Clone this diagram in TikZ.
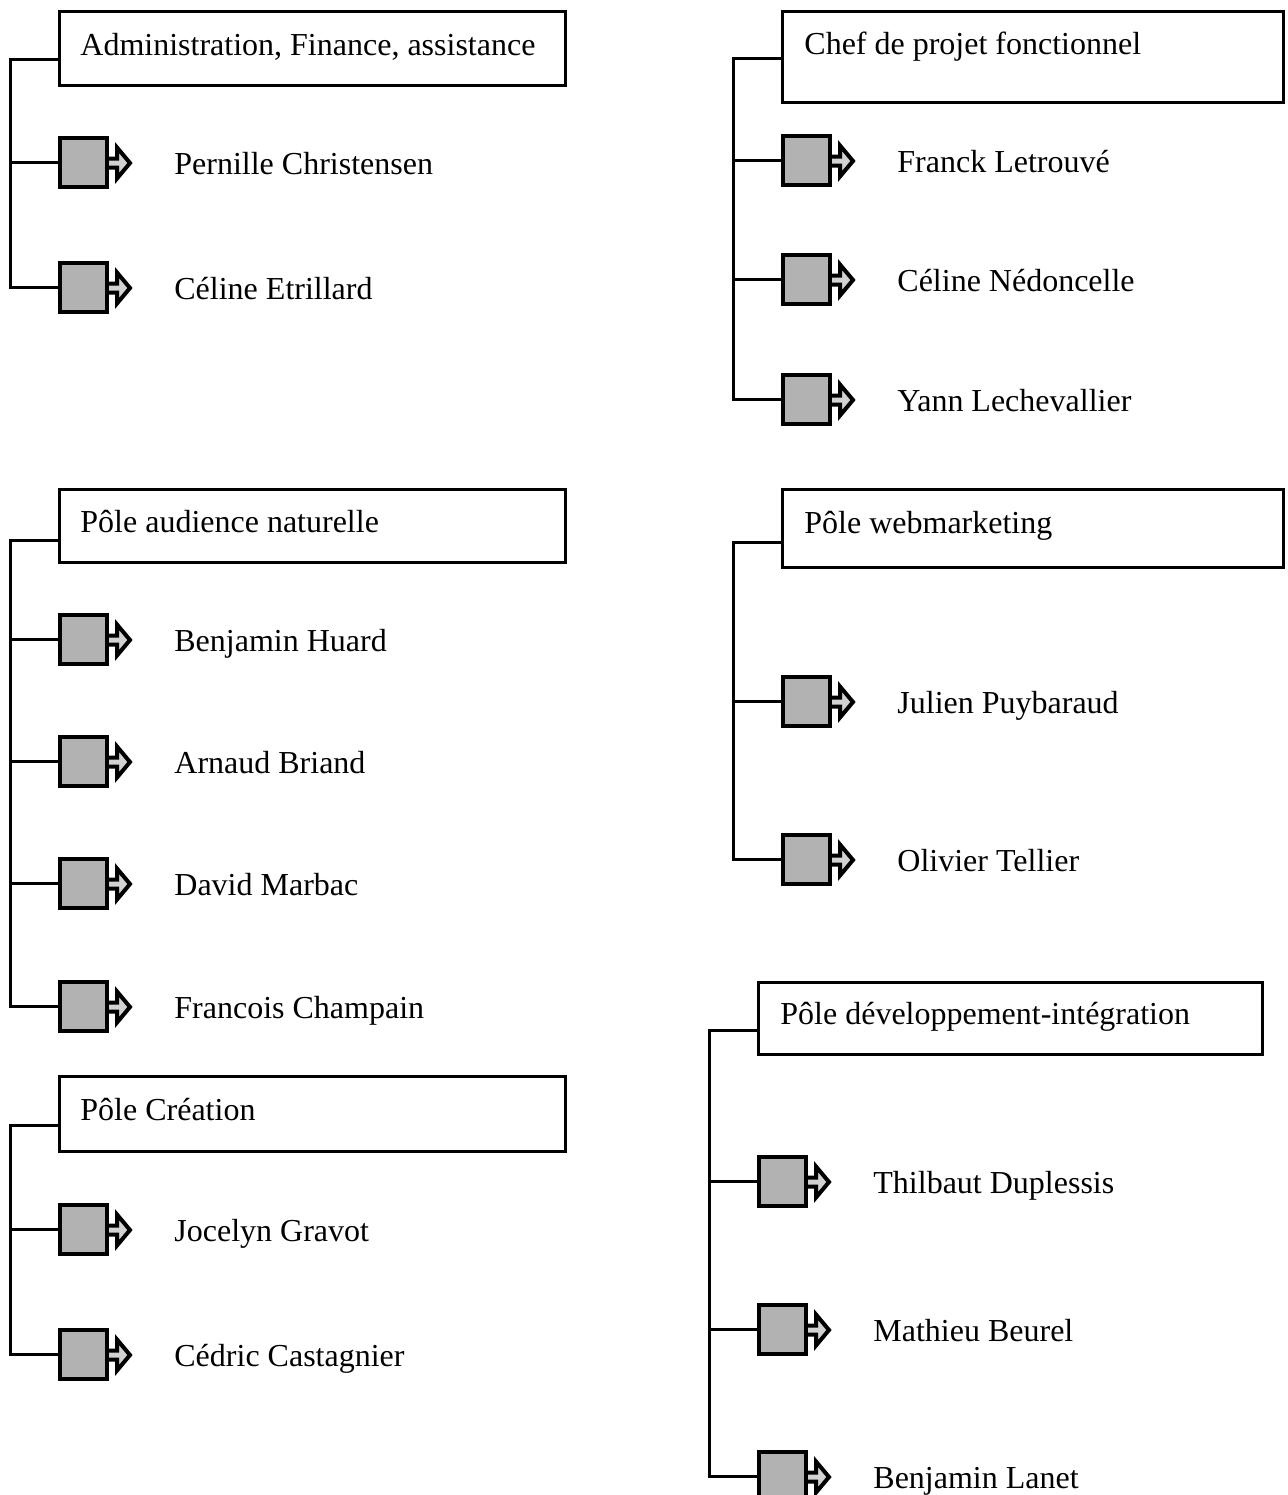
\documentclass[tikz,border=0pt]{standalone}
\usepackage{fontspec}
\setmainfont{Liberation Serif}
\usepackage{tikz}
\tikzset{
  head/.style={draw, line width=1.5pt, anchor=north west, inner sep=0pt},
  headtext/.style={anchor=base west, inner sep=0pt, font=\fontsize{16}{19}\selectfont},
  staffname/.style={anchor=base west, inner sep=0pt, font=\fontsize{16}{19}\selectfont},
  iconbox/.style={draw, line width=2pt, fill=gray!60, minimum width=23.5pt, minimum height=24.5pt, inner sep=0pt},
  iconarrow/.style={draw, line width=2pt, fill=gray!35, line join=miter},
  link/.style={line width=1.5pt}
}
% #1 node name, #2 left x of icon, #3 y, #4 person
\newcommand{\staff}[4]{\filldraw[iconarrow] ({#2+44},{#3-4.5}) -- ({#2+59},{#3-4.5}) -- ({#2+59},{#3-15.5}) -- ({#2+72},{#3}) -- ({#2+59},{#3+15.5}) -- ({#2+59},{#3+4.5}) -- ({#2+44},{#3+4.5}) -- cycle;
  \node[iconbox] (#1) at ({#2+25.5},{#3-1}) {};
  \node[staffname] (#1t) at ({#2+116},{#3+11}) {#4};}

\begin{document}
\begin{tikzpicture}[x=0.5pt,y=-0.5pt]
  \useasboundingbox (0,0) rectangle (1287,1495);
  % left column
  \node[head, minimum width=253pt, minimum height=37pt] (hA) at (58,10) {};
  \node[headtext] (tA) at (80,55) {Administration, Finance, assistance};
  \staff{pA1}{58}{163}{Pernille Christensen} \staff{pA2}{58}{288}{Céline Etrillard}
  \coordinate (jA) at (10,59);
  \draw[link] (jA -| hA.west) -- (jA) |- (pA2.west); \draw[link] (jA) |- (pA1.west);

  \node[head, minimum width=253pt, minimum height=36.5pt] (hB) at (58,488) {};
  \node[headtext] (tB) at (80,532) {Pôle audience naturelle};
  \staff{pB1}{58}{640}{Benjamin Huard} \staff{pB2}{58}{762}{Arnaud Briand}
  \staff{pB3}{58}{884}{David Marbac} \staff{pB4}{58}{1007}{Francois Champain}
  \coordinate (jB) at (10,540);
  \draw[link] (jB -| hB.west) -- (jB) |- (pB4.west);
  \draw[link] (jB) |- (pB1.west); \draw[link] (jB) |- (pB2.west); \draw[link] (jB) |- (pB3.west);

  \node[head, minimum width=253pt, minimum height=37.5pt] (hC) at (58,1075) {};
  \node[headtext] (tC) at (80,1120) {Pôle Création};
  \staff{pC1}{58}{1230}{Jocelyn Gravot} \staff{pC2}{58}{1355}{Cédric Castagnier}
  \coordinate (jC) at (10,1125);
  \draw[link] (jC -| hC.west) -- (jC) |- (pC2.west); \draw[link] (jC) |- (pC1.west);

  % right column
  \node[head, minimum width=250.5pt, minimum height=45.5pt] (hD) at (781,10) {};
  \node[headtext] (tD) at (804,54) {Chef de projet fonctionnel};
  \staff{pD1}{781}{161}{Franck Letrouvé} \staff{pD2}{781}{280}{Céline Nédoncelle}
  \staff{pD3}{781}{400}{Yann Lechevallier}
  \coordinate (jD) at (733,58);
  \draw[link] (jD -| hD.west) -- (jD) |- (pD3.west);
  \draw[link] (jD) |- (pD1.west); \draw[link] (jD) |- (pD2.west);

  \node[head, minimum width=250.5pt, minimum height=39pt] (hE) at (781,488) {};
  \node[headtext] (tE) at (804,533) {Pôle webmarketing};
  \staff{pE1}{781}{702}{Julien Puybaraud} \staff{pE2}{781}{860}{Olivier Tellier}
  \coordinate (jE) at (733,542);
  \draw[link] (jE -| hE.west) -- (jE) |- (pE2.west); \draw[link] (jE) |- (pE1.west);

  \node[head, minimum width=252pt, minimum height=36pt] (hF) at (757,981) {};
  \node[headtext] (tF) at (780,1024) {Pôle développement-intégration};
  \staff{pF1}{757}{1182}{Thilbaut Duplessis} \staff{pF2}{757}{1330}{Mathieu Beurel}
  \staff{pF3}{757}{1477}{Benjamin Lanet}
  \coordinate (jF) at (709,1030);
  \draw[link] (jF -| hF.west) -- (jF) |- (pF3.west);
  \draw[link] (jF) |- (pF1.west); \draw[link] (jF) |- (pF2.west);
\end{tikzpicture}
\end{document}
